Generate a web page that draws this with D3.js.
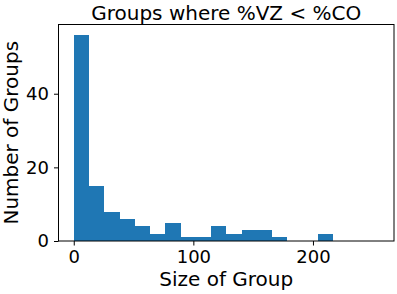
<!DOCTYPE html>
<html>
<head>
<meta charset="utf-8">
<script src="https://cdn.jsdelivr.net/npm/d3@7"></script>
<style>
  body { margin: 0; background: #fff; }
  svg { display: block; }
  text { font-family: "DejaVu Sans", sans-serif; fill: #000; }
</style>
</head>
<body>
<div id="chart"></div>
<script>
// histogram bin edges and counts
const binEdges = [0, 12.75, 25.5, 38.25, 51, 63.75, 76.5, 89.25, 102, 114.75, 127.5,
  140.25, 153, 165.75, 178.5, 191.25, 204, 216.75, 229.5, 242.25, 255]
const counts = [56, 15, 8, 6, 4, 2, 5, 1, 1, 4, 2, 3, 3, 1, 0, 0, 2, 0, 0, 0]
const xTicks = [0, 100, 200]
const yTicks = [0, 20, 40]

const width = 397
const height = 294
const margin = { left: 58.5, right: 3, top: 24.5, bottom: 53 }

const bins = counts.map((c, i) => ({ x0: binEdges[i], x1: binEdges[i + 1], n: c }))

const xMin = binEdges[0]
const xMax = binEdges[binEdges.length - 1]
const pad = (xMax - xMin) * 0.05
const xScale = d3.scaleLinear()
  .domain([xMin - pad, xMax + pad])
  .range([margin.left, width - margin.right])
const yScale = d3.scaleLinear()
  .domain([0, d3.max(counts) * 1.05])
  .range([height - margin.bottom, margin.top])

const svg = d3.select('#chart')
  .append('svg')
  .attr('width', width)
  .attr('height', height)

svg.selectAll('rect.bar')
  .data(bins)
  .enter()
  .append('rect')
  .attr('class', 'bar')
  .attr('x', d => xScale(d.x0))
  .attr('y', d => yScale(d.n))
  .attr('width', d => xScale(d.x1) - xScale(d.x0))
  .attr('height', d => yScale(0) - yScale(d.n))
  .attr('fill', '#1f77b4')
  .attr('shape-rendering', 'crispEdges')

const xAxis = d3.axisBottom(xScale).tickValues(xTicks).tickSize(4.5).tickPadding(5)
const yAxis = d3.axisLeft(yScale).tickValues(yTicks).tickSize(4.5).tickPadding(5)

const gx = svg.append('g')
  .attr('transform', `translate(0, ${height - margin.bottom})`)
  .call(xAxis)
const gy = svg.append('g')
  .attr('transform', `translate(${margin.left}, 0)`)
  .call(yAxis)

;[gx, gy].forEach(g => {
  g.select('.domain').remove()
  g.selectAll('.tick line').attr('stroke', '#000').attr('stroke-width', 1)
  g.selectAll('.tick text').attr('font-size', 18).attr('font-family', '"DejaVu Sans", sans-serif')
})

// frame
svg.append('rect')
  .attr('x', margin.left)
  .attr('y', margin.top)
  .attr('width', width - margin.left - margin.right)
  .attr('height', height - margin.top - margin.bottom)
  .attr('fill', 'none')
  .attr('stroke', '#000')
  .attr('stroke-width', 1)

svg.append('text')
  .attr('x', (margin.left + width - margin.right) / 2)
  .attr('y', 20)
  .attr('text-anchor', 'middle')
  .attr('font-size', 20)
  .text('Groups where %VZ < %CO')

svg.append('text')
  .attr('x', (margin.left + width - margin.right) / 2)
  .attr('y', 286)
  .attr('text-anchor', 'middle')
  .attr('font-size', 20)
  .text('Size of Group')

svg.append('text')
  .attr('transform', `translate(18, ${(margin.top + height - margin.bottom) / 2}) rotate(-90)`)
  .attr('text-anchor', 'middle')
  .attr('font-size', 20)
  .text('Number of Groups')
</script>
</body>
</html>
